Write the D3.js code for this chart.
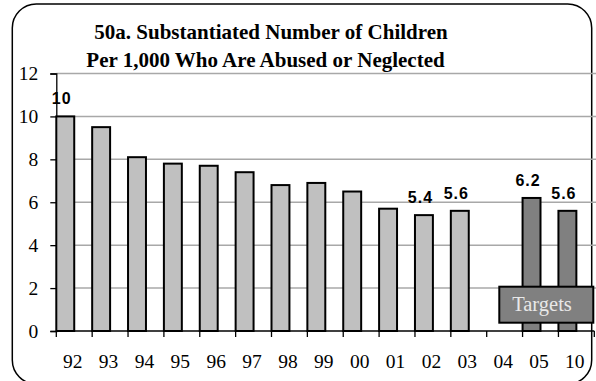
<!DOCTYPE html>
<html>
<head>
<meta charset="utf-8">
<script src="https://cdn.jsdelivr.net/npm/d3@7"></script>
<style>
  html, body { margin: 0; padding: 0; background: #fff; }
  svg { display: block; }
</style>
</head>
<body>
<svg id="chart" width="596" height="381"></svg>
<script>
// Years on the category axis
const years = ["92","93","94","95","96","97","98","99","00","01","02","03","04","05","10"];
// Substantiated cases per 1,000 children (observed)
const actual = [10, 9.5, 8.1, 7.8, 7.7, 7.4, 6.8, 6.9, 6.5, 5.7, 5.4, 5.6, null, null, null];
// Target rates
const targets = [null, null, null, null, null, null, null, null, null, null, null, null, null, 6.2, 5.6];
// Values printed above bars
const labelled = { "92": "10", "02": "5.4", "03": "5.6", "05": "6.2", "10": "5.6" };
const yTicks = [0, 2, 4, 6, 8, 10, 12];
const titleLines = ["50a. Substantiated Number of Children", "Per 1,000 Who Are Abused or Neglected"];

const svg = d3.select("#chart");
const plotLeft = 56.3, plotRight = 594.3, plotTop = 73.5, plotBottom = 331;

const x = d3.scaleBand().domain(years).range([plotLeft, plotRight]).paddingInner(0).paddingOuter(0);
const y = d3.scaleLinear().domain([0, 12]).range([plotBottom, plotTop]);
const barW = x.bandwidth() / 2;

// Rounded frame
svg.append("rect")
  .attr("x", 12.3).attr("y", 4).attr("width", 579.4).attr("height", 380)
  .attr("rx", 24).attr("ry", 24)
  .attr("fill", "none").attr("stroke", "#000").attr("stroke-width", 1.5);

// Title
svg.append("g").selectAll("text").data(titleLines).join("text")
  .attr("x", (d, i) => i === 0 ? 271 : 265.5).attr("y", (d, i) => 38.5 + i * 28.2)
  .attr("text-anchor", "middle")
  .attr("font-family", "'Liberation Serif', 'Times New Roman', serif")
  .attr("font-weight", "bold").attr("font-size", "21px")
  .text(d => d);

// Horizontal gridlines
svg.append("g").selectAll("line").data(yTicks.filter(t => t > 0)).join("line")
  .attr("x1", plotLeft).attr("x2", 596)
  .attr("y1", d => y(d)).attr("y2", d => y(d))
  .attr("stroke", "#a8a8a8").attr("stroke-width", 1.5);

// Y axis
const yAxis = svg.append("g").attr("transform", `translate(${plotLeft},0)`)
  .call(d3.axisLeft(y).tickValues(yTicks).tickSize(6).tickPadding(12).tickFormat(d3.format("d")));
yAxis.select(".domain").attr("stroke", "#000").attr("stroke-width", 1.3);
yAxis.selectAll(".tick line").attr("stroke", "#000").attr("stroke-width", 1.3);
yAxis.selectAll(".tick text")
  .attr("font-family", "'Liberation Serif', 'Times New Roman', serif")
  .attr("font-size", "19.5px").attr("fill", "#000");

// Observed bars
svg.append("g").selectAll("rect").data(years.map((yr, i) => ({ yr, v: actual[i] })).filter(d => d.v != null))
  .join("rect")
  .attr("x", d => x(d.yr)).attr("width", barW)
  .attr("y", d => y(d.v)).attr("height", d => y(0) - y(d.v))
  .attr("fill", "#c0c0c0").attr("stroke", "#000").attr("stroke-width", 2);

// Target bars
svg.append("g").selectAll("rect").data(years.map((yr, i) => ({ yr, v: targets[i] })).filter(d => d.v != null))
  .join("rect")
  .attr("x", d => x(d.yr)).attr("width", barW)
  .attr("y", d => y(d.v)).attr("height", d => y(0) - y(d.v))
  .attr("fill", "#808080").attr("stroke", "#000").attr("stroke-width", 2);

// Value labels
const vals = years.map((yr, i) => ({ yr, v: actual[i] != null ? actual[i] : targets[i] }))
  .filter(d => labelled[d.yr] && d.v != null);
svg.append("g").selectAll("text").data(vals).join("text")
  .attr("x", d => x(d.yr) + barW / 2 - 3.5)
  .attr("y", d => y(d.v) - 12)
  .attr("text-anchor", "middle")
  .attr("font-family", "'Liberation Sans', Arial, sans-serif")
  .attr("font-weight", "bold").attr("font-size", "16px")
  .attr("letter-spacing", "1px")
  .text(d => labelled[d.yr]);

// X axis line and category ticks
const xg = svg.append("g");
xg.append("line").attr("x1", plotLeft).attr("x2", plotRight).attr("y1", plotBottom).attr("y2", plotBottom)
  .attr("stroke", "#000").attr("stroke-width", 1.3);
const edges = years.map(d => x(d)).concat([x(years[years.length - 1]) + x.bandwidth()]);
xg.selectAll("line.tk").data(edges).join("line").attr("class", "tk")
  .attr("x1", d => d).attr("x2", d => d).attr("y1", plotBottom).attr("y2", plotBottom + 6)
  .attr("stroke", "#000").attr("stroke-width", 1.3);
xg.selectAll("text").data(years).join("text")
  .attr("x", d => x(d) + x.bandwidth() / 2 - 1.5).attr("y", 368)
  .attr("text-anchor", "middle")
  .attr("font-family", "'Liberation Serif', 'Times New Roman', serif")
  .attr("font-size", "19.5px")
  .text(d => d);

// Targets legend box
const lg = svg.append("g");
lg.append("rect").attr("x", 499.3).attr("y", 286.7).attr("width", 94).attr("height", 36)
  .attr("fill", "#808080").attr("stroke", "#000").attr("stroke-width", 2);
lg.append("text").attr("x", 542).attr("y", 310.5).attr("text-anchor", "middle")
  .attr("font-family", "'Liberation Serif', 'Times New Roman', serif")
  .attr("font-size", "20.5px").attr("fill", "#e8e8e8")
  .text("Targets");
</script>
</body>
</html>
